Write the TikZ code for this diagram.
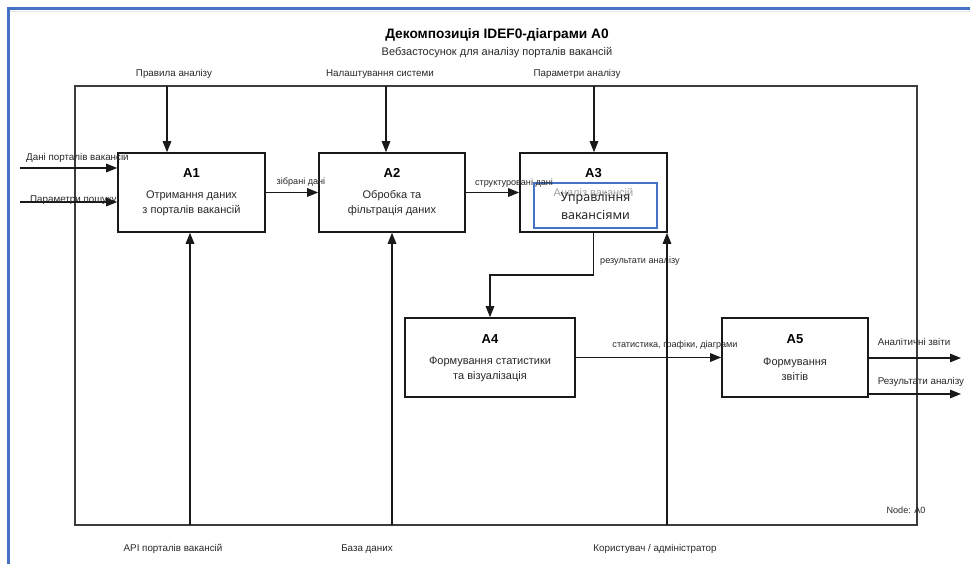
\documentclass[tikz,border=0pt]{standalone}
\usepackage{fontspec}
\setmainfont{Liberation Sans}
\newfontfamily\uifont{Noto Sans}
\usetikzlibrary{arrows.meta,calc}

\definecolor{frameblue}{RGB}{68,114,196}
\definecolor{ink}{RGB}{25,25,25}
\definecolor{txt}{RGB}{40,40,40}

\begin{document}
\begin{tikzpicture}[x=1pt,y=-1pt,
  fnbox/.style={draw=ink,line width=1.6pt,minimum width=#1,minimum height=79pt,inner sep=0pt},
  arr/.style={draw=ink,line width=1.4pt,-{Triangle[length=11pt,width=8.5pt]}},
  boxid/.style={font=\fontsize{13}{15}\selectfont\bfseries,text=black,inner sep=0pt},
  boxtxt/.style={font=\fontsize{11}{15.5}\selectfont,text=txt,align=center,inner sep=0pt},
  lbl/.style={font=\fontsize{9.8}{11}\selectfont,text=txt,inner sep=0pt},
  small/.style={font=\fontsize{9.1}{10}\selectfont,text=txt,inner sep=0pt},
]
% page background and window edge
\fill[white] (0,0) rectangle (970,564);
\useasboundingbox (0,0) rectangle (970,564);
\draw[gray!20,line width=1pt] (10,12) -- (970,12);
\draw[frameblue,line width=2.5pt] (8.5,564) -- (8.5,8.5) -- (970,8.5);

% heading
\node[font=\fontsize{13.7}{15}\selectfont\bfseries,inner sep=0pt] (title) at (497,34.5) {Декомпозиція IDEF0-діаграми A0};
\node[font=\fontsize{11}{13}\selectfont,text=txt,inner sep=0pt] (subtitle) at (497,52.5) {Вебзастосунок для аналізу порталів вакансій};

% context frame
\draw[draw=ink!85,line width=1.3pt] (75,86) rectangle (917,525);
\node[small] (nodeid) at (906,510) {Node: A0};

% function boxes
\node[fnbox=147pt] (A1) at (191.5,192.5) {};
\node[fnbox=146pt] (A2) at (392,192.5) {};
\node[fnbox=147pt] (A3) at (593.5,192.5) {};
\node[fnbox=170pt] (A4) at (490,357.5) {};
\node[fnbox=146pt] (A5) at (795,357.5) {};

\node[boxid] (A1id) at ($(A1.north)+(0,20.5)$) {A1};
\node[boxtxt] (A1tx) at ($(A1.north)+(0,51)$) {Отримання даних\\з порталів вакансій};
\node[boxid] (A2id) at ($(A2.north)+(0,20.5)$) {A2};
\node[boxtxt] (A2tx) at ($(A2.north)+(0,51)$) {Обробка та\\фільтрація даних};
\node[boxid] (A3id) at ($(A3.north)+(0,20.5)$) {A3};
\node[boxtxt,text=gray!75] (A3tx) at ($(A3.north)+(0,40)$) {Аналіз вакансій};
\node[boxid] (A4id) at ($(A4.north)+(0,21.5)$) {A4};
\node[boxtxt] (A4tx) at ($(A4.north)+(0,52)$) {Формування статистики\\та візуалізація};
\node[boxid] (A5id) at ($(A5.north)+(0,21.5)$) {A5};
\node[boxtxt] (A5tx) at ($(A5.north)+(0,52)$) {Формування\\звітів};

% overlay box on A3
\node[draw=frameblue,line width=1.8pt,minimum width=123pt,minimum height=45pt,inner sep=0pt] (ov) at (595.5,205.5) {};
\node[font=\uifont\fontsize{12.5}{17.5}\selectfont,text=txt,align=center,inner sep=0pt] (ovtx) at (595.5,206) {Управління\\вакансіями};

% inputs
\coordinate (in1) at (20,168);
\coordinate (in2) at (20,202);
\draw[arr] (in1) -- (in1 -| A1.west);
\draw[arr] (in2) -- (in2 -| A1.west);
\node[lbl,anchor=west] (in1l) at (26,158) {Дані порталів вакансій};
\node[lbl,anchor=west] (in2l) at (30,200) {Параметри пошуку};

% controls
\coordinate (c1) at (167,86);
\coordinate (c2) at (386,86);
\coordinate (c3) at (594,86);
\draw[arr] (c1) -- (c1 |- A1.north);
\draw[arr] (c2) -- (c2 |- A2.north);
\draw[arr] (c3) -- (c3 |- A3.north);
\node[lbl] (c1l) at (174,74) {Правила аналізу};
\node[lbl] (c2l) at (380,74) {Налаштування системи};
\node[lbl] (c3l) at (577,74) {Параметри аналізу};

% flows between functions
\draw[arr] (A1.east) -- (A2.west);
\node[small] (f12) at (301,182) {зібрані дані};
\draw[arr] (A2.east) -- (A3.west);
\node[small] (f23) at (514,183) {структуровані дані};
\coordinate (bend) at (593.5,275);
\draw[arr] (A3.south) -- (bend) -| (A4.north);
\node[small,anchor=west] (f34) at (600,261) {результати аналізу};
\draw[arr] (A4.east) -- (A5.west);
\node[small] (f45) at (675,345) {статистика, графіки, діаграми};

% outputs
\coordinate (o1) at (961,358);
\coordinate (o2) at (961,394);
\draw[arr] (o1 -| A5.east) -- (o1);
\draw[arr] (o2 -| A5.east) -- (o2);
\node[lbl] (o1l) at (914,342) {Аналітичні звіти};
\node[lbl] (o2l) at (921,382) {Результати аналізу};

% mechanisms
\coordinate (m1) at (190,525);
\coordinate (m2) at (392,525);
\coordinate (m3) at (667,525);
\draw[arr] (m1) -- (m1 |- A1.south);
\draw[arr] (m2) -- (m2 |- A2.south);
\draw[arr] (m3) -- (m3 |- A3.south);
\node[lbl] (m1l) at (173,549) {API порталів вакансій};
\node[lbl] (m2l) at (367,549) {База даних};
\node[lbl] (m3l) at (655,549) {Користувач / адміністратор};
\end{tikzpicture}
\end{document}
